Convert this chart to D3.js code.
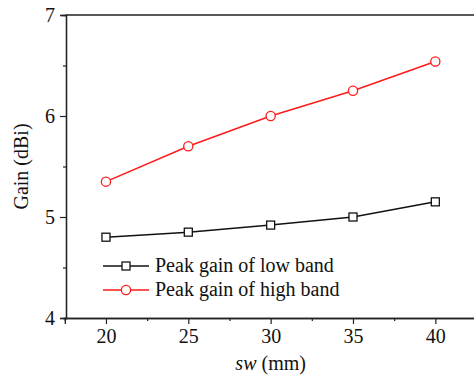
<!DOCTYPE html>
<html lang="en">
<head>
<meta charset="utf-8">
<title>Peak gain vs sw</title>
<script src="https://cdn.jsdelivr.net/npm/d3@7"></script>
<style>
  body { margin: 0; background: #fff; }
  text { font-family: "Liberation Serif", "Times New Roman", serif; fill: #111; }
</style>
</head>
<body>
<script>
// data
var swValues = [20, 25, 30, 35, 40];
var lowBand = [4.80, 4.85, 4.92, 5.00, 5.15];
var highBand = [5.35, 5.70, 6.00, 6.25, 6.54];
var xTicks = [20, 25, 30, 35, 40];
var yTicks = [4, 5, 6, 7];
var seriesNames = ["Peak gain of low band", "Peak gain of high band"];

var w = 474, h = 379;
var plotLeft = 66, plotTop = 15, plotBottom = 318;

var svg = d3.select("body").append("svg")
  .attr("width", w)
  .attr("height", h);

var xScale = d3.scaleLinear().domain([17.5, 42.5]).range([64.8, 476.5]);
var yScale = d3.scaleLinear().domain([4, 7]).range([plotBottom, plotTop]);

// top frame line
svg.append("line")
  .attr("x1", plotLeft).attr("x2", w).attr("y1", plotTop).attr("y2", plotTop)
  .attr("stroke", "#222").attr("stroke-width", 1.3);

// minor ticks
var xMinor = d3.axisBottom(xScale).tickValues([22.5, 27.5, 32.5, 37.5])
  .tickSize(3).tickFormat("");
var yMinor = d3.axisLeft(yScale).tickValues([4.5, 5.5, 6.5])
  .tickSize(3).tickFormat("");

svg.append("g").attr("transform", "translate(0," + plotBottom + ")").call(xMinor);
svg.append("g").attr("transform", "translate(" + plotLeft + ",0)").call(yMinor);

var xAxis = d3.axisBottom(xScale).tickValues(xTicks).tickSize(6).tickPadding(5)
  .tickFormat(d3.format("d"));
var yAxis = d3.axisLeft(yScale).tickValues(yTicks).tickSize(6).tickPadding(5)
  .tickFormat(d3.format("d"));

var gx = svg.append("g").attr("transform", "translate(0," + plotBottom + ")").call(xAxis);
var gy = svg.append("g").attr("transform", "translate(" + plotLeft + ",0)").call(yAxis);

svg.selectAll(".domain").attr("stroke", "#222").attr("stroke-width", 1.3);
svg.selectAll(".tick line").attr("stroke", "#222").attr("stroke-width", 1.2);
gx.selectAll("text").style("font-size", "20px").attr("fill", "#111");
gy.selectAll("text").style("font-size", "20px").attr("fill", "#111");

// axis titles
svg.append("text")
  .attr("transform", "translate(28," + ((plotTop + plotBottom) / 2) + ") rotate(-90)")
  .attr("text-anchor", "middle")
  .style("font-size", "20px")
  .text("Gain (dBi)");

var xt = svg.append("text")
  .attr("x", xScale(30))
  .attr("y", 370)
  .attr("text-anchor", "middle")
  .style("font-size", "20px");
xt.append("tspan").style("font-style", "italic").text("sw");
xt.append("tspan").text(" (mm)");

var line = d3.line()
  .x(function(d, i) { return xScale(swValues[i]); })
  .y(function(d) { return yScale(d); });

// low band
svg.append("path").datum(lowBand)
  .attr("d", line).attr("fill", "none")
  .attr("stroke", "#111").attr("stroke-width", 1.5);
svg.selectAll("rect.low").data(lowBand).enter().append("rect")
  .attr("class", "low")
  .attr("x", function(d, i) { return xScale(swValues[i]) - 4; })
  .attr("y", function(d) { return yScale(d) - 4; })
  .attr("width", 8).attr("height", 8)
  .attr("fill", "#fff").attr("stroke", "#111").attr("stroke-width", 1.3);

// high band
svg.append("path").datum(highBand)
  .attr("d", line).attr("fill", "none")
  .attr("stroke", "#ff1a1a").attr("stroke-width", 1.5);
svg.selectAll("circle.high").data(highBand).enter().append("circle")
  .attr("class", "high")
  .attr("cx", function(d, i) { return xScale(swValues[i]); })
  .attr("cy", function(d) { return yScale(d); })
  .attr("r", 4.6)
  .attr("fill", "#fff").attr("stroke", "#ff1a1a").attr("stroke-width", 1.3);

// legend
var legend = svg.append("g");
var legY = [266, 290];
var colors = ["#111", "#ff1a1a"];
seriesNames.forEach(function(name, i) {
  legend.append("line")
    .attr("x1", 103).attr("x2", 149).attr("y1", legY[i]).attr("y2", legY[i])
    .attr("stroke", colors[i]).attr("stroke-width", 1.5);
  if (i === 0) {
    legend.append("rect").attr("x", 122).attr("y", legY[i] - 4)
      .attr("width", 8).attr("height", 8)
      .attr("fill", "#fff").attr("stroke", colors[i]).attr("stroke-width", 1.3);
  } else {
    legend.append("circle").attr("cx", 126).attr("cy", legY[i]).attr("r", 4.6)
      .attr("fill", "#fff").attr("stroke", colors[i]).attr("stroke-width", 1.3);
  }
  legend.append("text")
    .attr("x", 155).attr("y", legY[i] + 6)
    .style("font-size", "20px")
    .text(name);
});
</script>
</body>
</html>
